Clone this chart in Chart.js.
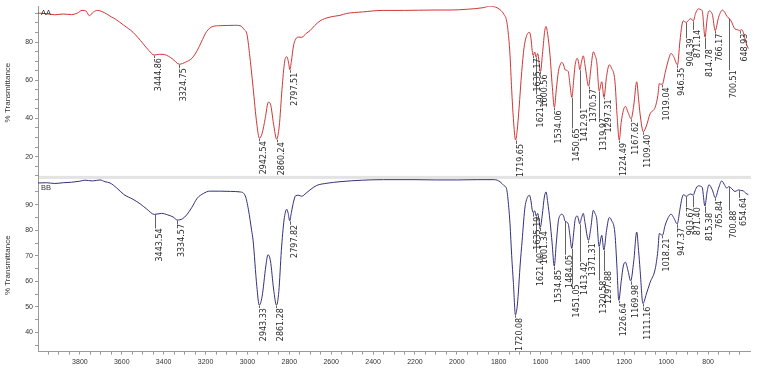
<!DOCTYPE html>
<html lang="en">
<head>
  <meta charset="UTF-8">
  <title>IR spectra AA / BB</title>
  <script src="https://cdn.jsdelivr.net/npm/chart.js"></script>
  <style>
    body {
      margin: 0;
      background: #fff;
    }
    #wrap {
      width: 757px;
      height: 374px;
      position: relative;
    }
  </style>
</head>
<body>
  <div id="wrap"><canvas id="irChart"></canvas></div>

  <script>
    // spectrum AA (top, red): wavenumber (cm-1) and % transmittance
    const waveA = [4000, 3960, 3920, 3880, 3840, 3810, 3790, 3770, 3755, 3735, 3715, 3695, 3670, 3650, 3630,
      3590, 3546, 3499, 3470, 3444.86, 3420, 3395, 3360, 3324.75, 3295, 3265, 3240, 3220, 3195, 3164,
      3130, 3097, 3060, 3035, 3015, 3002, 2990, 2973, 2955, 2942.54, 2930, 2915, 2900, 2890, 2875,
      2860.24, 2848, 2835, 2822, 2812, 2803, 2797.51, 2790, 2780, 2770, 2755, 2740, 2720, 2701, 2680,
      2653, 2610, 2558, 2526, 2450, 2352, 2250, 2114, 2033, 1950, 1875, 1841, 1815, 1794, 1775,
      1762, 1752, 1746, 1738, 1730, 1719.65, 1712, 1703, 1690, 1679, 1669, 1660, 1653, 1646, 1640,
      1635.17, 1628, 1621.20, 1614, 1600.56, 1590, 1580, 1574, 1566, 1555, 1545, 1534.06, 1525, 1515,
      1505, 1499, 1490, 1483, 1468, 1460, 1450.65, 1442, 1436, 1425, 1418, 1412.91, 1404, 1396, 1388,
      1370.57, 1360, 1348, 1340, 1332, 1319.97, 1308, 1297.31, 1285, 1272, 1262, 1245, 1235, 1224.49,
      1215, 1205, 1195, 1182, 1167.62, 1155, 1141, 1132, 1125, 1109.40, 1095, 1077, 1053, 1040, 1033,
      1019.04, 1005, 990, 977, 965, 946.35, 935, 925, 918, 904.39, 890, 882, 871.14, 860, 847,
      835, 828, 814.78, 805, 796, 780, 766.17, 750, 732, 720, 711, 700.51, 690, 672, 660,
      648.93, 640, 632, 620, 608];
    const transA = [95.2, 94.9, 94.3, 94.7, 94.4, 95.3, 96.6, 96.2, 93.8, 95.8, 96.6, 96.0, 94.6, 93.2, 92.0,
      88.8, 85.1, 79.3, 75.5, 73.2, 73.6, 73.4, 71.4, 68.4, 69.5, 71.5, 75.5, 80.0, 85.5, 88.2,
      88.6, 88.7, 88.8, 88.6, 86.5, 84.0, 74.0, 56.3, 37.0, 29.6, 32.0, 40.0, 48.5, 47.5, 37.0,
      29.1, 36.0, 55.0, 70.0, 72.3, 69.0, 65.5, 70.0, 78.0, 81.5, 82.6, 82.5, 84.5, 86.0, 88.5,
      91.1, 93.0, 94.0, 95.0, 95.8, 96.6, 96.6, 96.8, 96.8, 97.2, 98.0, 98.8, 98.3, 97.0, 94.5,
      91.0, 82.0, 73.2, 55.0, 40.0, 28.7, 33.5, 45.0, 64.6, 77.0, 82.6, 84.8, 85.1, 82.0, 75.5,
      73.0, 74.8, 72.0, 74.0, 64.6, 75.0, 86.0, 88.2, 84.0, 73.2, 58.0, 45.8, 55.0, 64.6,
      68.5, 69.4, 68.0, 65.5, 64.6, 58.0, 51.0, 60.0, 67.2, 71.5, 69.0, 65.5, 70.0, 72.8, 68.0,
      56.9, 66.0, 74.9, 73.0, 69.7, 54.4, 59.2, 51.0, 62.0, 68.1, 66.5, 59.5, 42.0, 28.7,
      38.0, 44.1, 46.3, 43.0, 39.8, 47.0, 59.2, 50.0, 42.4, 33.0, 36.0, 42.4, 45.8, 52.0, 58.2,
      57.8, 64.0, 70.5, 74.0, 72.5, 68.1, 80.0, 89.0, 91.1, 90.3, 91.8, 92.3, 91.1, 95.0, 97.4,
      97.0, 96.3, 82.6, 92.0, 96.3, 94.6, 86.0, 93.0, 96.8, 95.5, 93.5, 92.5, 91.0, 86.9, 86.5,
      86.0, 86.5, 85.1, 80.0, 76.6];

    // spectrum BB (bottom, blue)
    const waveB = [4000, 3960, 3920, 3880, 3840, 3800, 3776, 3740, 3704, 3680, 3656, 3625, 3590, 3546, 3510,
      3481, 3443.54, 3410, 3380, 3355, 3334.57, 3310, 3290, 3265, 3240, 3210, 3180, 3130, 3080, 3035,
      3010, 2995, 2980, 2973, 2955, 2943.33, 2930, 2912, 2902, 2890, 2875, 2861.28, 2850, 2838, 2825,
      2812, 2805, 2797.82, 2790, 2780, 2770, 2755, 2741, 2720, 2701, 2670, 2620, 2558, 2450, 2350,
      2200, 2100, 2000, 1900, 1820, 1794, 1775, 1762, 1752, 1746, 1738, 1730, 1720.08, 1712, 1706,
      1698, 1688, 1676, 1669, 1653, 1646, 1640, 1635.19, 1628, 1621.00, 1614, 1601.34, 1592, 1582, 1574,
      1566, 1555, 1545, 1534.85, 1525, 1515, 1505, 1499, 1490, 1484.05, 1468, 1460, 1451.05, 1442, 1436,
      1425, 1418, 1413.42, 1404, 1396, 1388, 1371.31, 1360, 1348, 1340, 1332, 1320.58, 1308, 1297.88, 1285,
      1272, 1262, 1245, 1235, 1226.64, 1215, 1205, 1195, 1182, 1169.98, 1155, 1141, 1132, 1125, 1111.16,
      1095, 1077, 1053, 1040, 1033, 1018.21, 1005, 990, 977, 965, 947.37, 935, 925, 918, 903.67,
      890, 882, 871.40, 860, 847, 835, 828, 815.38, 805, 796, 780, 765.84, 750, 735, 720,
      711, 700.88, 690, 672, 660, 654.64, 645, 632, 620, 608];
    const transB = [98.5, 98.6, 98.3, 98.6, 98.8, 99.2, 99.6, 99.3, 99.7, 99.0, 98.5, 96.6, 94.0, 92.1, 90.2,
      88.3, 86.2, 86.6, 86.0, 85.2, 84.0, 84.5, 86.0, 89.0, 92.5, 94.4, 95.3, 95.3, 95.2, 95.0,
      93.4, 88.0, 80.0, 76.1, 58.0, 50.7, 54.0, 66.0, 70.4, 68.0, 57.0, 50.7, 56.0, 72.0, 84.0,
      88.2, 86.5, 83.7, 87.0, 91.0, 93.5, 93.7, 93.3, 94.5, 95.8, 97.5, 98.4, 99.0, 99.6, 99.8,
      99.8, 99.7, 99.7, 99.8, 99.8, 99.0, 97.5, 96.0, 89.0, 82.5, 70.0, 59.6, 46.9, 50.0, 55.8,
      66.0, 76.1, 88.0, 91.4, 93.7, 91.5, 88.0, 86.9, 87.6, 85.6, 86.6, 81.2, 86.0, 93.0, 95.0,
      91.0, 83.7, 75.0, 66.0, 75.0, 83.7, 86.0, 86.3, 85.5, 83.7, 82.5, 78.0, 72.9, 79.0, 83.7,
      85.6, 84.0, 82.5, 85.0, 86.6, 83.0, 76.1, 81.0, 87.8, 86.5, 84.4, 73.6, 78.0, 72.3, 80.0,
      85.0, 84.0, 78.7, 65.0, 52.6, 60.0, 66.0, 67.5, 64.0, 60.2, 68.0, 79.3, 72.0, 64.7, 51.3,
      55.0, 59.6, 64.7, 72.0, 78.7, 78.0, 82.0, 85.0, 86.3, 85.0, 82.5, 88.0, 92.5, 93.9, 93.3,
      94.0, 94.2, 93.7, 96.0, 97.4, 97.2, 96.7, 89.5, 95.0, 97.8, 95.8, 92.7, 96.5, 99.3, 97.5,
      96.5, 97.1, 96.5, 95.2, 95.6, 95.8, 95.6, 95.4, 94.5, 93.9];

    // labelled peaks
    const peaksA = [3444.86, 3324.75, 2942.54, 2860.24, 2797.51, 1719.65, 1635.17, 1621.20, 1600.56, 1534.06,
      1450.65, 1412.91, 1370.57, 1319.97, 1297.31, 1224.49, 1167.62, 1109.40, 1019.04, 946.35,
      904.39, 871.14, 814.78, 766.17, 700.51, 648.93];
    const peaksB = [3443.54, 3334.57, 2943.33, 2861.28, 2797.82, 1720.08, 1635.19, 1621.00, 1601.34, 1534.85,
      1484.05, 1451.05, 1413.42, 1371.31, 1320.58, 1297.88, 1226.64, 1169.98, 1111.16, 1018.21,
      947.37, 903.67, 871.40, 815.38, 765.84, 700.88, 654.64];

    const xTickLabels = [3800, 3600, 3400, 3200, 3000, 2800, 2600, 2400, 2200, 2000, 1800, 1600, 1400, 1200, 1000, 800];

    // leader lengths (px) between peak and its label
    const leadA = [2, 3, 2, 2, 2, 3, 2, 36, 2, 2, 30, 38, 2, 26, 1, 2, 2, 2, 2, 2, 15, 8, 11, 2, 51, 2];
    const leadB = [13, 3, 2, 2, 3, 2, 3, 36, 3, 3, 33, 35, 37, 2, 33, 20, 2, 3, 2, 2, 3, 10, 11, 6, 2, 23, 7];

    function valueAt(waves, vals, w) {
      const i = waves.indexOf(w);
      if (i >= 0) return vals[i];
      for (let k = 0; k < waves.length - 1; k++) {
        if (waves[k] >= w && waves[k + 1] <= w) {
          const t = (waves[k] - w) / (waves[k] - waves[k + 1]);
          return vals[k] + t * (vals[k + 1] - vals[k]);
        }
      }
      return vals[vals.length - 1];
    }

    const tickFont = { family: "'Liberation Sans Narrow', 'Liberation Sans', Arial, sans-serif", size: 7 };
    const axisGrey = '#9a9a9a';

    // peak labels + AA/BB tags + separator band
    const decorations = {
      id: 'decorations',
      beforeDatasetsDraw(chart) {
        const { ctx, chartArea } = chart;
        const top = chart.scales.yA;
        ctx.save();
        ctx.fillStyle = '#e3e3e3';
        ctx.fillRect(chartArea.left + 1, top.bottom - 3, chartArea.right - chartArea.left, 3);
        ctx.restore();
      },
      afterDatasetsDraw(chart, args, opts) {
        const { ctx } = chart;
        const xs = chart.scales.x;
        ctx.save();
        opts.sets.forEach(set => {
          const ys = chart.scales[set.axis];
          ctx.font = '8px "DejaVu Sans", sans-serif';
          ctx.fillStyle = '#2a2a2a';
          ctx.strokeStyle = '#3a3a3a';
          ctx.lineWidth = 0.8;
          set.peaks.forEach((w, i) => {
            const v = valueAt(set.wave, set.trans, w);
            const px = Math.round(xs.getPixelForValue(w)) + 0.5;
            const py = ys.getPixelForValue(v);
            const textTop = py + set.lead[i];
            ctx.beginPath();
            ctx.moveTo(px, py + 0.5);
            ctx.lineTo(px, textTop + 1);
            ctx.stroke();
            // rotated text, read bottom to top, glyphs to the right of the leader
            ctx.save();
            ctx.translate(px + 0.5, textTop + 1);
            ctx.rotate(-Math.PI / 2);
            ctx.textAlign = 'right';
            ctx.textBaseline = 'top';
            ctx.fillText(w.toFixed(2), 0, 0);
            ctx.restore();
          });
          ctx.font = '7.5px "Liberation Sans", Arial, sans-serif';
          ctx.fillStyle = '#333';
          ctx.textAlign = 'left';
          ctx.textBaseline = 'top';
          ctx.fillText(set.name, chart.chartArea.left + 3, ys.top + set.nameDy);
        });
        ctx.restore();
      }
    };

    function yScale(min, max, labelStep) {
      return {
        type: 'linear',
        position: 'left',
        stack: 'panels',
        stackWeight: 1,
        min: min,
        max: max,
        afterFit(scale) { scale.width = 38; },
        afterBuildTicks(scale) {
          const t = [];
          for (let v = Math.ceil(min / 5) * 5; v < max - 1; v += 5) t.push({ value: v });
          scale.ticks = t;
        },
        ticks: {
          font: tickFont,
          color: '#333',
          padding: 2,
          autoSkip: false,
          callback: v => (v % labelStep === 0 ? v : '')
        },
        grid: { drawOnChartArea: false, drawTicks: true, tickLength: 3, color: axisGrey },
        border: { display: true, color: axisGrey },
        title: {
          display: true,
          text: '% Transmittance',
          font: { family: "'Liberation Sans', Arial, sans-serif", size: 8 },
          color: '#333',
          padding: { top: 3, bottom: 0 }
        }
      };
    }

    const ctx = document.getElementById('irChart').getContext('2d');
    new Chart(ctx, {
      type: 'line',
      data: {
        datasets: [
          {
            label: 'AA',
            data: waveA.map((w, i) => ({ x: w, y: transA[i] })),
            yAxisID: 'yA',
            borderColor: '#cf3636',
            borderWidth: 1,
            pointRadius: 0,
            cubicInterpolationMode: 'monotone',
            fill: false
          },
          {
            label: 'BB',
            data: waveB.map((w, i) => ({ x: w, y: transB[i] })),
            yAxisID: 'yB',
            borderColor: '#32327e',
            borderWidth: 1,
            pointRadius: 0,
            cubicInterpolationMode: 'monotone',
            fill: false
          }
        ]
      },
      options: {
        responsive: true,
        maintainAspectRatio: false,
        animation: false,
        layout: { padding: { top: 0, right: 7, bottom: 5, left: 0 } },
        plugins: {
          legend: { display: false },
          tooltip: { enabled: false },
          decorations: {
            sets: [
              { axis: 'yA', name: 'AA', nameDy: 3, wave: waveA, trans: transA, peaks: peaksA, lead: leadA },
              { axis: 'yB', name: 'BB', nameDy: 5, wave: waveB, trans: transB, peaks: peaksB, lead: leadB }
            ]
          }
        },
        scales: {
          x: {
            type: 'linear',
            reverse: true,
            min: 600,
            max: 4000,
            afterBuildTicks(scale) {
              const t = [];
              for (let v = 650; v < 4000; v += 50) t.push({ value: v });
              scale.ticks = t;
            },
            ticks: {
              font: tickFont,
              color: '#333',
              padding: 3,
              maxRotation: 0,
              autoSkip: false,
              callback: v => (xTickLabels.includes(v) ? v : '')
            },
            grid: { drawOnChartArea: false, drawTicks: true, tickLength: 3, color: axisGrey },
            border: { display: true, color: axisGrey }
          },
          // bottom panel first: later stacked scales sit on top
          yB: yScale(32.5, 100.1, 10),
          yA: yScale(8.3, 98.8, 20)
        }
      },
      plugins: [decorations]
    });
  </script>
</body>
</html>
